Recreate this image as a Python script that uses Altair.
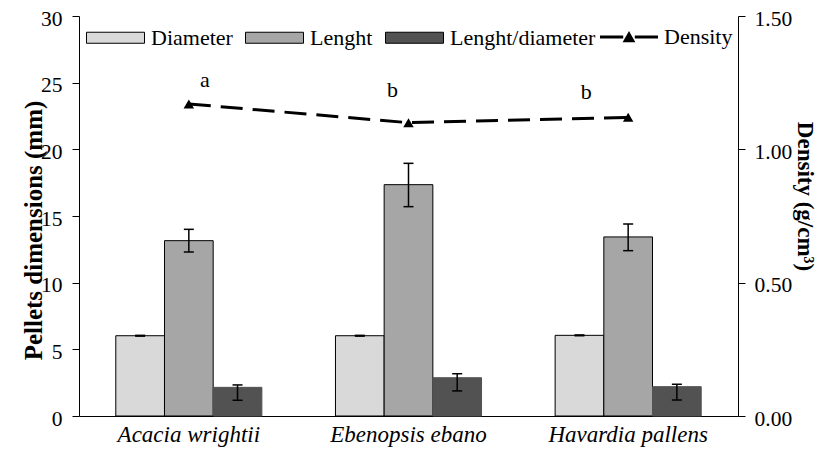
import altair as alt
import pandas as pd

# ---- data ----
species = ["Acacia wrightii", "Ebenopsis ebano", "Havardia pallens"]
series = ["Diameter", "Lenght", "Lenght/diameter"]

diameter = [6.02, 6.02, 6.05]
diameter_lo = [5.99, 5.99, 6.02]
diameter_hi = [6.05, 6.05, 6.08]

lenght = [13.15, 17.35, 13.43]
lenght_lo = [12.30, 15.70, 12.40]
lenght_hi = [14.00, 18.95, 14.40]

ratio = [2.15, 2.87, 2.20]
ratio_lo = [1.18, 1.88, 1.20]
ratio_hi = [2.33, 3.17, 2.38]

density = [1.17, 1.10, 1.12]
letters = ["a", "b", "b"]

left_ticks = [0, 5, 10, 15, 20, 25, 30]
right_ticks = [0.0, 0.5, 1.0, 1.5]

# ---- tables ----
rows = []
for vals, los, his, name in [
    (diameter, diameter_lo, diameter_hi, series[0]),
    (lenght, lenght_lo, lenght_hi, series[1]),
    (ratio, ratio_lo, ratio_hi, series[2]),
]:
    for sp, v, lo, hi in zip(species, vals, los, his):
        rows.append({"species": sp, "series": name, "value": v, "lo": lo, "hi": hi})
bars_df = pd.DataFrame(rows)

dens_df = pd.DataFrame({"species": species, "density": density,
                        "letter": letters, "name": ["Density"] * 3})

FONT = "Times New Roman, Liberation Serif, serif"
colors = ["#d9d9d9", "#a6a6a6", "#525252"]

x_enc = alt.X("species:N", sort=species,
              scale=alt.Scale(paddingInner=0.335, paddingOuter=0.1675),
              axis=alt.Axis(title=None, labelFontStyle="italic", ticks=False,
                            labelAngle=0, labelBaseline="alphabetic",
                            labelPadding=25, labelFontSize=23))
xo_enc = alt.XOffset("series:N", sort=series,
                     scale=alt.Scale(paddingInner=0, paddingOuter=0))

left_scale = alt.Scale(domain=[0, 30], nice=False)
left_axis = alt.Axis(values=left_ticks, title="Pellets dimensions (mm)",
                     titleAngle=270, titleX=-46, titleY=214,
                     titleBaseline="middle", titleAlign="center",
                     titleFontSize=25, titleFontWeight="bold",
                     tickSize=7, labelPadding=10, labelFontSize=21.5,
                     labelOffset=3)

rect_path = "M-1,-0.19L1,-0.19L1,0.19L-1,0.19Z"

bars = alt.Chart(bars_df).mark_bar(strokeWidth=1).encode(
    x=x_enc, xOffset=xo_enc,
    y=alt.Y("value:Q", scale=left_scale, axis=left_axis),
    fill=alt.Fill("series:N", sort=series,
                  scale=alt.Scale(domain=series, range=colors),
                  legend=alt.Legend(orient="none", legendX=7, legendY=-8,
                                    direction="horizontal", title=None,
                                    symbolType=rect_path, symbolSize=3364,
                                    symbolStrokeColor="black", symbolStrokeWidth=1,
                                    symbolOpacity=1,
                                    labelFont=FONT, labelFontSize=22,
                                    labelColor="black", labelOffset=6,
                                    columnPadding=10, labelLimit=400)),
    stroke=alt.condition(alt.datum.series == "Lenght/diameter",
                         alt.value("#525252"), alt.value("black")),
)

err = alt.Chart(bars_df).mark_rule(color="black", strokeWidth=1.5).encode(
    x=x_enc, xOffset=xo_enc,
    y=alt.Y("lo:Q", scale=left_scale, axis=left_axis),
    y2="hi:Q",
)
cap_lo = alt.Chart(bars_df).mark_tick(color="black", size=10, thickness=1.5,
                                      opacity=1).encode(
    x=x_enc, xOffset=xo_enc,
    y=alt.Y("lo:Q", scale=left_scale, axis=left_axis),
)
cap_hi = alt.Chart(bars_df).mark_tick(color="black", size=10, thickness=1.5,
                                      opacity=1).encode(
    x=x_enc, xOffset=xo_enc,
    y=alt.Y("hi:Q", scale=left_scale, axis=left_axis),
)

left = alt.layer(bars, err, cap_lo, cap_hi)

right_scale = alt.Scale(domain=[0, 1.5], nice=False)
right_axis = alt.Axis(values=right_ticks, format=".2f", orient="right",
                      title="Density (g/cm³)", titleAngle=90,
                      titleX=66, titleY=180, titleBaseline="middle",
                      titleAlign="center", titleFontSize=23,
                      titleFontWeight="bold", tickSize=7, labelPadding=9,
                      labelFontSize=21.5, labelOffset=3)

dens_path = ("M-1,-0.055L-0.2,-0.055L-0.2,0.055L-1,0.055Z"
             "M0.2,-0.055L1,-0.055L1,0.055L0.2,0.055Z"
             "M-0.22,0.18L0,-0.21L0.22,0.18Z")

line = alt.Chart(dens_df).mark_line(strokeWidth=3, strokeDash=[22, 10]).encode(
    x=x_enc,
    y=alt.Y("density:Q", scale=right_scale, axis=right_axis),
    stroke=alt.Stroke("name:N", scale=alt.Scale(domain=["Density"], range=["black"]),
                      legend=alt.Legend(orient="none", legendX=521, legendY=-8,
                                        title=None, symbolType=dens_path,
                                        symbolSize=3364, symbolStrokeWidth=0,
                                        symbolFillColor="black",
                                        symbolOpacity=1,
                                        labelFont=FONT, labelFontSize=22,
                                        labelColor="black", labelOffset=6)),
)
pts = alt.Chart(dens_df).mark_point(shape="triangle-up", filled=True, size=110,
                                    color="black", opacity=1).encode(
    x=x_enc,
    y=alt.Y("density:Q", scale=right_scale, axis=right_axis),
)

label_offsets = [(16, -24), (-16, -33), (-42, -25)]
texts = []
for i, (ddx, ddy) in enumerate(label_offsets):
    texts.append(
        alt.Chart(dens_df.iloc[[i]]).mark_text(
            font=FONT, fontSize=22, color="black", dx=ddx, dy=ddy,
            baseline="middle", align="center").encode(
            x=x_enc,
            y=alt.Y("density:Q", scale=right_scale, axis=right_axis),
            text="letter:N",
        )
    )

right = alt.layer(line, pts, *texts)

chart = alt.layer(left, right).resolve_scale(
    y="independent", fill="independent", stroke="independent"
).properties(
    width=659, height=400,
    autosize="none",
    padding={"left": 71, "top": 8, "right": 78, "bottom": 31},
).configure_view(stroke=None).configure_axis(
    domainColor="black", tickColor="black", labelColor="black",
    titleColor="black", labelFont=FONT, titleFont=FONT, grid=False,
    domainWidth=1, tickWidth=1,
).configure_legend(padding=0)

chart.save("out.html", embed_options={"renderer": "svg", "actions": False})
